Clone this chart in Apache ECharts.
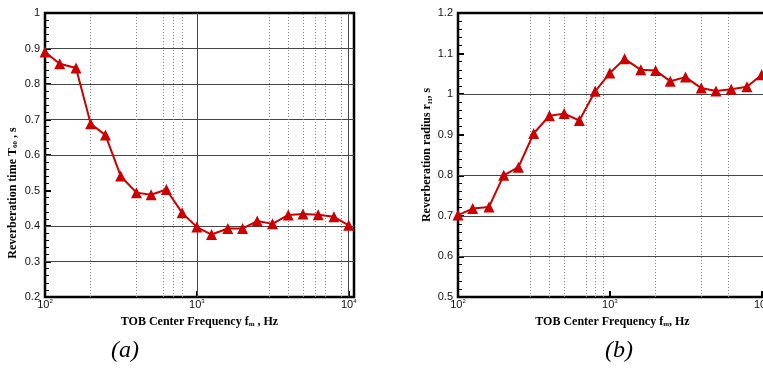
<!DOCTYPE html>
<html>
<head>
<meta charset="utf-8">
<script src="https://cdn.jsdelivr.net/npm/echarts@6/dist/echarts.min.js"></script>
<style>
  html, body { margin: 0; padding: 0; background: #fff; }
  #box { width: 763px; height: 372px; }
</style>
</head>
<body>
<div id="box"></div>
<script>
// 1/3 octave band centre frequencies, Hz
var freqs = [100, 125, 160, 200, 250, 315, 400, 500, 630, 800, 1000, 1250, 1600, 2000, 2500, 3150, 4000, 5000, 6300, 8000, 10000];
// (a) reverberation time T60, s
var timeT60 = [0.89, 0.857, 0.845, 0.688, 0.656, 0.541, 0.494, 0.488, 0.503, 0.437, 0.397, 0.376, 0.393, 0.393, 0.414, 0.406, 0.431, 0.434, 0.432, 0.426, 0.402];
// (b) reverberation radius rH
var radiusRH = [0.702, 0.718, 0.722, 0.800, 0.820, 0.903, 0.947, 0.952, 0.935, 1.007, 1.052, 1.087, 1.060, 1.058, 1.032, 1.042, 1.015, 1.008, 1.012, 1.018, 1.048];

// grid lines drawn in the original figure
var leftGridY = [0.3, 0.4, 0.6, 0.7, 0.8, 0.9];
var leftSolidX = [1000, 10000];
var leftDotX = [200, 400, 600, 700, 800, 3000, 4000, 5000, 6000, 7000, 9000];
var rightGridY = [0.6, 0.7, 0.8, 1.0];
var rightDotX = [300, 400, 500, 700, 800, 900, 2000, 4000, 6000];

var xMin = 100, xMax = 10840;

function powLabel(v) {
	var e = Math.log10(v);
	var r = Math.round(e);
	if (Math.abs(e - r) > 1e-6) return '';
	return '10{sup|' + r + '}';
}

function xAxisOpt(idx) {
	return {
		type: 'log',
		logBase: 10,
		gridIndex: idx,
		min: xMin,
		max: xMax,
		name: idx === 0 ? 'TOB Center Frequency f{sub|m} , Hz' : 'TOB Center Frequency f{sub|m}, Hz',
		nameLocation: 'middle',
		nameGap: 18,
		nameTextStyle: {
			fontFamily: 'Liberation Serif',
			fontWeight: 'bold',
			fontSize: 12,
			color: '#000',
			rich: {
				sub: { fontFamily: 'Liberation Serif', fontWeight: 'bold', fontSize: 7, padding: [6, 0, 0, 0] }
			}
		},
		axisLine: { onZero: false, lineStyle: { color: '#000', width: 2 } },
		axisTick: { inside: true, length: 6, lineStyle: { color: '#000', width: 2 } },
		minorTick: { show: false },
		splitLine: { show: false },
		axisLabel: {
			margin: 1,
			showMaxLabel: false,
			formatter: powLabel,
			fontFamily: 'Liberation Sans',
			fontSize: 11,
			color: '#111',
			rich: {
				sup: { fontFamily: 'Liberation Sans', fontSize: 6, padding: [0, 0, 7, 0], color: '#111' }
			}
		}
	};
}

function yAxisOpt(idx, min, max, name, pad) {
	return {
		type: 'value',
		gridIndex: idx,
		min: min,
		max: max,
		interval: 0.1,
		name: name,
		nameLocation: 'middle',
		nameGap: idx === 0 ? 26 : 20,
		nameTextStyle: {
			fontFamily: 'Liberation Serif',
			fontWeight: 'bold',
			fontSize: 12,
			color: '#000',
			padding: pad,
			rich: {
				sub: { fontFamily: 'Liberation Serif', fontWeight: 'bold', fontSize: 7, padding: [6, 0, 0, 0] }
			}
		},
		axisLine: { lineStyle: { color: '#000', width: 2 } },
		axisTick: { inside: true, length: 6, lineStyle: { color: '#000', width: 2 } },
		minorTick: { show: true, splitNumber: 5, length: 4, lineStyle: { color: '#000', width: 1 } },
		splitLine: { show: false },
		axisLabel: {
			margin: 5,
			fontFamily: 'Liberation Sans',
			fontSize: 11,
			color: '#111',
			formatter: function (v) { return String(Math.round(v * 10) / 10); }
		}
	};
}

function gridMarks(ys, solidX, dotX) {
	var d = [];
	ys.forEach(function (y) {
		d.push({ yAxis: y, lineStyle: { color: '#444', width: 1, type: 'solid' } });
	});
	solidX.forEach(function (x) {
		d.push({ xAxis: x, lineStyle: { color: '#444', width: 1, type: 'solid' } });
	});
	dotX.forEach(function (x) {
		d.push({ xAxis: x, lineStyle: { color: '#888', width: 1, type: [1, 2] } });
	});
	return d;
}

function pairs(xs, ys) {
	var out = [];
	for (var i = 0; i < xs.length; i++) out.push([xs[i], ys[i]]);
	return out;
}

var myChart = echarts.init(document.getElementById('box'));
var option = {
	animation: false,
	backgroundColor: '#fff',
	title: [
		{ text: '(a)', left: 120, top: 334, textAlign: 'center',
			textStyle: { fontFamily: 'Liberation Serif', fontStyle: 'italic', fontWeight: 'normal', fontSize: 24, color: '#000' } },
		{ text: '(b)', left: 614, top: 334, textAlign: 'center',
			textStyle: { fontFamily: 'Liberation Serif', fontStyle: 'italic', fontWeight: 'normal', fontSize: 24, color: '#000' } }
	],
	grid: [
		{ left: 45, top: 13, width: 309, height: 284, show: true, borderColor: '#000', borderWidth: 2.5, outerBoundsMode: 'none' },
		{ left: 458, top: 13, width: 309, height: 284, show: true, borderColor: '#000', borderWidth: 2.5, outerBoundsMode: 'none' }
	],
	xAxis: [xAxisOpt(0), xAxisOpt(1)],
	yAxis: [
		yAxisOpt(0, 0.2, 1, 'Reverberation time T{sub|60} , s', [0, 76, 0, 0]),
		yAxisOpt(1, 0.5, 1.2, 'Reverberation radius r{sub|H}, s', [0, 0, 0, 0])
	],
	series: [
		{
			type: 'line', xAxisIndex: 0, yAxisIndex: 0, data: [], z: 1, silent: true,
			markLine: { silent: true, symbol: 'none', label: { show: false }, animation: false,
				data: gridMarks(leftGridY, leftSolidX, leftDotX) }
		},
		{
			type: 'line', xAxisIndex: 1, yAxisIndex: 1, data: [], z: 1, silent: true,
			markLine: { silent: true, symbol: 'none', label: { show: false }, animation: false,
				data: gridMarks(rightGridY, [], rightDotX) }
		},
		{
			name: 'T60', type: 'line', xAxisIndex: 0, yAxisIndex: 0, z: 5,
			data: pairs(freqs, timeT60),
			symbol: 'triangle', symbolSize: 11,
			lineStyle: { color: '#cc0000', width: 2 },
			itemStyle: { color: '#cc0000' }
		},
		{
			name: 'rH', type: 'line', xAxisIndex: 1, yAxisIndex: 1, z: 5,
			data: pairs(freqs, radiusRH),
			symbol: 'triangle', symbolSize: 11,
			lineStyle: { color: '#cc0000', width: 2 },
			itemStyle: { color: '#cc0000' }
		}
	]
};
myChart.setOption(option);
</script>
</body>
</html>
